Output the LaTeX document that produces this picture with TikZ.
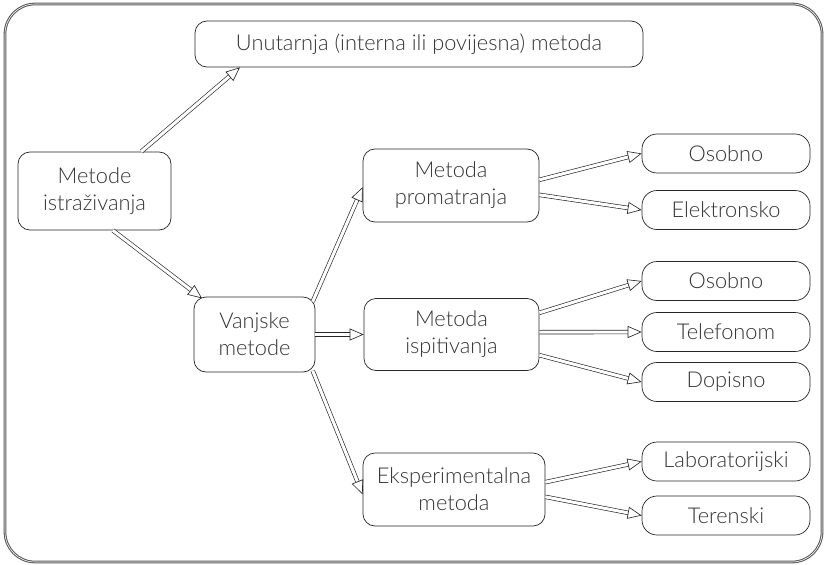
\documentclass[tikz,border=0pt]{standalone}
\usepackage{fontspec}
\setmainfont{Lato}[UprightFont={* Light}]
\usetikzlibrary{arrows.meta}
\tikzset{box/.style={rectangle,rounded corners=3.6mm,draw=black!85,line width=0.6pt,align=center,text=black!80,font=\fontsize{18.6}{23}\selectfont,inner sep=0pt},
		leaf/.style={box,rounded corners=4.5mm,minimum width=5.04cm,minimum height=1.17cm},
		arr/.style={double,double distance=2.6pt,line width=0.55pt,draw=black!85,-{Triangle[open,length=4.2mm,width=3.6mm,line width=0.55pt]}}}

\begin{document}
\begin{tikzpicture}
		\useasboundingbox (0,0) rectangle (24.78,-16.92);
		\draw[draw=black!65,double,double distance=0.5pt,line width=0.9pt,rounded corners=9mm] (0.15,-0.12) rectangle (24.66,-16.86);
		
		\node[box,minimum width=13.44cm,minimum height=1.38cm] (unutarnja) at (12.57,-1.32) {Unutarnja (interna ili povijesna) metoda};
		\node[box,minimum width=4.59cm,minimum height=2.34cm] (metode) at (2.835,-5.73) {Metode\\istraživanja};
		\node[box,minimum width=3.63cm,minimum height=2.25cm] (vanjske) at (7.635,-10.035) {Vanjske\\metode};
		
		\node[box,minimum width=5.28cm,minimum height=2.19cm] (promatranje) at (13.53,-5.565) {Metoda\\promatranja};
		\node[box,minimum width=5.25cm,minimum height=2.16cm] (ispitivanje) at (13.545,-10.035) {Metoda\\ispitivanja};
		\node[box,minimum width=5.46cm,minimum height=2.19cm] (eksperiment) at (13.62,-14.685) {Eksperimentalna\\metoda};
		
		\node[leaf] (prom-osobno) at (21.78,-4.605) {Osobno};
		\node[leaf] (prom-elektronsko) at (21.78,-6.3) {Elektronsko};
		\node[leaf] (isp-osobno) at (21.78,-8.43) {Osobno};
		\node[leaf] (isp-telefonom) at (21.78,-9.96) {Telefonom};
		\node[leaf] (isp-dopisno) at (21.78,-11.46) {Dopisno};
		\node[leaf] (eks-laboratorijski) at (21.78,-13.845) {Laboratorijski};
		\node[leaf] (eks-terenski) at (21.78,-15.465) {Terenski};
		
		\draw[arr] ([xshift=1.4cm]metode.north) -- ([xshift=-5.37cm]unutarnja.south);
		\draw[arr] ([xshift=0.55cm]metode.south) -- ([xshift=0.25cm,yshift=-0.05cm]vanjske.north west);
		
		\draw[arr] ([xshift=-0.08cm,yshift=-0.15cm]vanjske.north east) -- ([yshift=-0.05cm]promatranje.west);
		\draw[arr] (vanjske.east) -- (ispitivanje.west);
		\draw[arr] ([xshift=-0.08cm,yshift=0.05cm]vanjske.south east) -- ([yshift=-0.15cm]eksperiment.west);
		
		\draw[arr] ([yshift=0.17cm]promatranje.east) -- (prom-osobno.west);
		\draw[arr] ([yshift=-0.28cm]promatranje.east) -- (prom-elektronsko.west);
		\draw[arr] ([yshift=0.65cm]ispitivanje.east) -- (isp-osobno.west);
		\draw[arr] ([yshift=0.07cm]ispitivanje.east) -- (isp-telefonom.west);
		\draw[arr] ([yshift=-0.62cm]ispitivanje.east) -- (isp-dopisno.west);
		\draw[arr] ([yshift=0.22cm]eksperiment.east) -- (eks-laboratorijski.west);
		\draw[arr] ([yshift=-0.22cm]eksperiment.east) -- (eks-terenski.west);
	\end{tikzpicture}
\end{document}
